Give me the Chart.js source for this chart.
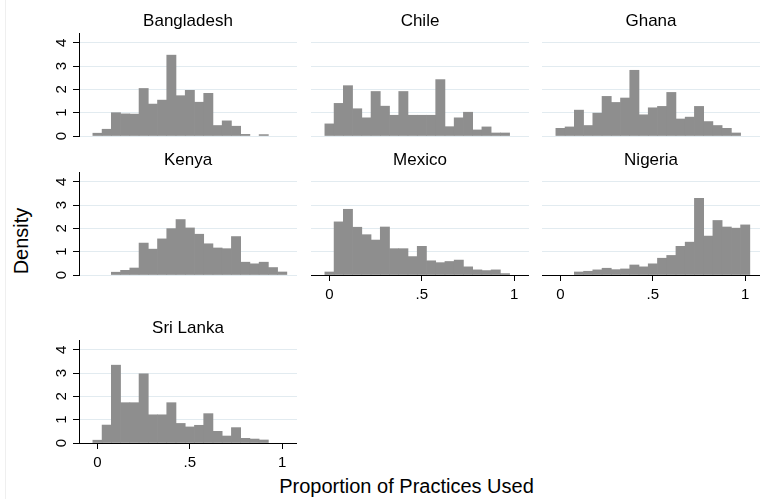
<!DOCTYPE html>
<html>
<head>
<meta charset="utf-8">
<script src="https://cdn.jsdelivr.net/npm/chart.js@4.4.0/dist/chart.umd.min.js"></script>
<style>
  html, body { margin: 0; padding: 0; background: #fff; }
  body { width: 760px; height: 499px; position: relative; overflow: hidden;
         font-family: "Liberation Sans", Arial, sans-serif; }
  canvas { position: absolute; }
  .axis-title { position: absolute; font-size: 20px; line-height: 20px; color: #000;
                white-space: nowrap; transform: translate(-50%, -50%); }
  .frame { position: absolute; left: 5px; top: 0; width: 0; height: 499px;
           border-left: 1px solid #efefef; }
</style>
</head>
<body>
<div class="frame"></div>
<div class="axis-title" style="left:20.5px; top:241px; transform:translate(-50%,-50%) rotate(-90deg);">Density</div>
<div class="axis-title" style="left:406.5px; top:486px;">Proportion of Practices Used</div>
<script>
// Histogram bin midpoints (bin width .05)
const binCenters = [0, 0.05, 0.10, 0.15, 0.20, 0.25, 0.30, 0.35, 0.40, 0.45, 0.50,
                    0.55, 0.60, 0.65, 0.70, 0.75, 0.80, 0.85, 0.90, 0.95, 1.00];

// Density per bin, one list per country (null = empty bin)
const bangladesh = [0.12, 0.29, 1.00, 0.95, 0.94, 2.04, 1.37, 1.54, 3.47, 1.73, 1.96,
                    1.45, 1.83, 0.45, 0.65, 0.42, 0.07, null, 0.06, null, null];
const chile      = [0.52, 1.40, 2.16, 1.17, 0.78, 1.91, 1.28, 0.89, 1.91, 0.89, 0.89,
                    0.89, 2.42, 0.40, 0.78, 1.02, 0.26, 0.39, 0.13, 0.13, null];
const ghana      = [0.33, 0.39, 1.11, 0.45, 0.98, 1.70, 1.44, 1.63, 2.82, 0.91, 1.21,
                    1.27, 1.87, 0.73, 0.81, 1.27, 0.62, 0.45, 0.33, 0.13, null];
const kenya      = [null, null, 0.12, 0.20, 0.30, 1.37, 1.11, 1.55, 1.99, 2.38, 2.02,
                    1.75, 1.34, 1.16, 1.13, 1.65, 0.55, 0.48, 0.55, 0.32, 0.13];
const mexico     = [0.13, 2.28, 2.82, 2.05, 1.73, 1.50, 2.06, 1.13, 1.13, 0.79, 1.23,
                    0.61, 0.53, 0.58, 0.64, 0.35, 0.22, 0.19, 0.22, 0.06, null];
const nigeria    = [null, null, 0.13, 0.16, 0.22, 0.29, 0.23, 0.26, 0.43, 0.35, 0.48,
                    0.72, 0.84, 1.23, 1.41, 3.29, 1.67, 2.34, 2.06, 2.01, 2.15];
const sriLanka   = [0.12, 0.77, 3.34, 1.73, 1.73, 2.97, 1.21, 1.21, 1.73, 0.84, 0.69,
                    0.76, 1.26, 0.50, 0.30, 0.66, 0.20, 0.17, 0.13, null, null];

const countryNames = ['Bangladesh', 'Chile', 'Ghana', 'Kenya', 'Mexico', 'Nigeria', 'Sri Lanka'];
const countryData  = [bangladesh, chile, ghana, kenya, mexico, nigeria, sriLanka];

// Axis ticks
const xTickValues = [0, 0.5, 1];
const xTickLabels = ['0', '.5', '1'];
const yTickValues = [0, 1, 2, 3, 4];
const yTickLabels = ['0', '1', '2', '3', '4'];

// Panel grid geometry (3 columns, rows filled left to right)
const COL_LEFT = [79, 311, 542];
const ROW_TOP = [33, 172, 340];
const PLOT_W = 218;
const PLOT_H = 103;
const TITLE_H = 22;
const Y_AXIS_W = 40;
const X_AXIS_H = 30;
const LABEL_ROOM = 8;   // space under panels without an x axis, for the rotated "0"
const FONT = '"Liberation Sans", Arial, sans-serif';
const BAR_COLOR = '#8e8e8e';
const GRID_COLOR = '#e2ebf0';

// Bottom panel of each column carries the x axis
const N = countryNames.length;
function hasXAxis(i) { return i + 3 >= N; }

countryNames.forEach((name, i) => {
  const col = i % 3, row = Math.floor(i / 3);
  const showY = col === 0;
  const showX = hasXAxis(i);
  const yW = showY ? Y_AXIS_W : 0;
  const xH = showX ? X_AXIS_H : 0;
  const padBottom = showX ? 0 : LABEL_ROOM;
  const w = yW + PLOT_W, h = TITLE_H + PLOT_H + xH + padBottom;

  const canvas = document.createElement('canvas');
  canvas.width = w; canvas.height = h;
  canvas.style.left = (COL_LEFT[col] - yW) + 'px';
  canvas.style.top = (ROW_TOP[row] - TITLE_H) + 'px';
  canvas.style.width = w + 'px';
  canvas.style.height = h + 'px';
  document.body.appendChild(canvas);

  new Chart(canvas, {
    type: 'bar',
    data: {
      labels: binCenters,
      datasets: [{
        data: countryData[i],
        backgroundColor: BAR_COLOR,
        borderWidth: 0,
        barPercentage: 1,
        categoryPercentage: 1
      }]
    },
    options: {
      responsive: false,
      animation: false,
      events: [],
      layout: { padding: { top: 0, left: 0, right: 0, bottom: padBottom } },
      plugins: {
        legend: { display: false },
        tooltip: { enabled: false },
        title: {
          display: true,
          text: name,
          fullSize: false,
          color: '#000',
          font: { family: FONT, size: 17, weight: 'normal' },
          padding: { top: 0, bottom: 1.6 }
        }
      },
      scales: {
        x: {
          type: 'linear',
          min: -0.1,
          max: 1.08,
          offset: false,
          display: showX,
          afterBuildTicks: s => { s.ticks = xTickValues.map(v => ({ value: v })); },
          afterFit: s => { s.height = xH; s.paddingLeft = 0; s.paddingRight = 0; },
          grid: { drawOnChartArea: false, drawTicks: true, tickLength: 6, tickColor: '#000', offset: false },
          border: { display: true, color: '#000', width: 1 },
          ticks: {
            font: { family: FONT, size: 15 },
            color: '#000',
            padding: 5,
            maxRotation: 0,
            autoSkip: false,
            callback: (v, idx) => xTickLabels[idx]
          }
        },
        y: {
          position: 'left',
          min: 0,
          max: 4.42,
          afterBuildTicks: s => { s.ticks = yTickValues.map(v => ({ value: v })); },
          afterFit: s => { s.width = yW; s.paddingTop = 0; s.paddingBottom = 0; },
          grid: { color: GRID_COLOR, lineWidth: 1, drawTicks: showY, tickLength: 6, tickColor: '#000' },
          border: { display: showY, color: '#000', width: 1 },
          ticks: {
            display: showY,
            minRotation: 90,
            maxRotation: 90,
            crossAlign: 'center',
            padding: 7,
            font: { family: FONT, size: 15 },
            color: '#000',
            callback: (v, idx) => yTickLabels[idx]
          }
        }
      }
    }
  });
});
</script>
</body>
</html>
